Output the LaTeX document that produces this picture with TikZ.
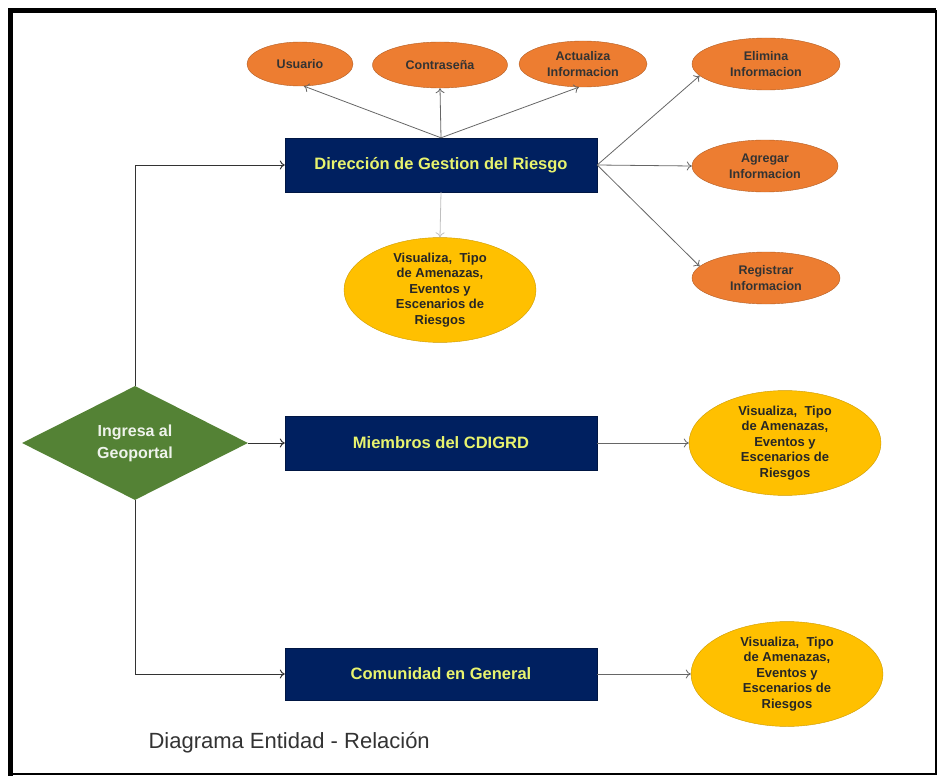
\documentclass[tikz,border=0pt]{standalone}
\usepackage{fontspec}
\setmainfont{Liberation Sans}
\usetikzlibrary{arrows,arrows.meta}
\usetikzlibrary{shapes.geometric}

\begin{document}
\begin{tikzpicture}[x=1pt,y=-1pt, >={To[length=5pt,width=9pt]},
        entity/.style={draw=navy!70!black, fill=navy, minimum width=312pt, minimum height=54pt,
            text=lemon, font=\bfseries\fontsize{16.5}{20}\selectfont},
        attr/.style={ellipse, draw=orng!75!black, fill=orng, inner sep=0pt, align=center,
            text=black!80, font=\bfseries\fontsize{12.5}{16}\selectfont},
        view/.style={ellipse, draw=gold!80!black, fill=gold, inner sep=0pt, align=center,
            minimum width=192pt, minimum height=98pt,
            text=black!85, font=\bfseries\fontsize{13}{15.5}\selectfont},
        link/.style={->, draw=gray!80!black, line width=0.8pt},
        flow/.style={->, draw=black!80, line width=1pt}]
        \definecolor{navy}{RGB}{0,32,96}
        \definecolor{orng}{RGB}{237,125,49}
        \definecolor{gold}{RGB}{255,192,0}
        \definecolor{leaf}{RGB}{84,130,53}
        \definecolor{lemon}{RGB}{232,243,110}

        \useasboundingbox (0,0) rectangle (938,776);
        \draw[line width=5pt] (10.5,776) |- (936,10.5);
        \draw[line width=2pt] (936,10.5) |- (10.5,774);

        % entidades
        \node[entity] (dgr) at (441,165) {Dirección de Gestion del Riesgo};
        \node[entity] (cdigrd) at (441,443) {Miembros del CDIGRD};
        \node[entity, minimum height=52pt] (comun) at (441,674) {Comunidad en General};

        \node[diamond, fill=leaf, inner sep=0pt, minimum width=226pt, minimum height=114pt,
            align=center, text=white!90!leaf, font=\bfseries\fontsize{16}{22}\selectfont]
            (geo) at (135,443) {Ingresa al\\Geoportal};

        % atributos
        \node[attr, minimum width=106pt, minimum height=44pt] (usuario) at (300,64) {Usuario};
        \node[attr, minimum width=135pt, minimum height=46pt] (clave) at (440,65) {Contraseña};
        \node[attr, minimum width=128pt, minimum height=46pt] (actual) at (583,64) {Actualiza\\Informacion};
        \node[attr, minimum width=148pt, minimum height=52pt] (elimina) at (766,64) {Elimina\\Informacion};
        \node[attr, minimum width=146pt, minimum height=52pt] (agregar) at (765,166) {Agregar\\Informacion};
        \node[attr, minimum width=148pt, minimum height=52pt] (registrar) at (766,278) {Registrar\\Informacion};

        \node[view] (vis1) at (440,290) {Visualiza,~~Tipo\\de Amenazas,\\Eventos y\\Escenarios de\\Riesgos};
        \node[view] (vis2) at (785,443) {Visualiza,~~Tipo\\de Amenazas,\\Eventos y\\Escenarios de\\Riesgos};
        \node[view] (vis3) at (787,674) {Visualiza,~~Tipo\\de Amenazas,\\Eventos y\\Escenarios de\\Riesgos};

        % relaciones
        \draw[flow] (geo.north) |- (dgr.west);
        \draw[flow] (geo.east) -- (cdigrd.west);
        \draw[flow] (geo.south) |- (comun.west);

        \draw[link] (dgr.north) -- (usuario.-80);
        \draw[link] (dgr.north) -- (clave.south);
        \draw[link] (dgr.north) -- (actual.-100);
        \draw[link] (dgr.east) -- (elimina.190);
        \draw[link] (dgr.east) -- (agregar.west);
        \draw[link] (dgr.east) -- (registrar.170);
        \draw[link, draw=gray!50] (dgr.south) -- (vis1.north);
        \draw[link] (cdigrd.east) -- (vis2.west);
        \draw[link] (comun.east) -- (vis3.west);

        \node[anchor=base west, text=black!80, font=\fontsize{22}{26}\selectfont]
            (titulo) at (145,748) {Diagrama Entidad - Relación};
\end{tikzpicture}
\end{document}
